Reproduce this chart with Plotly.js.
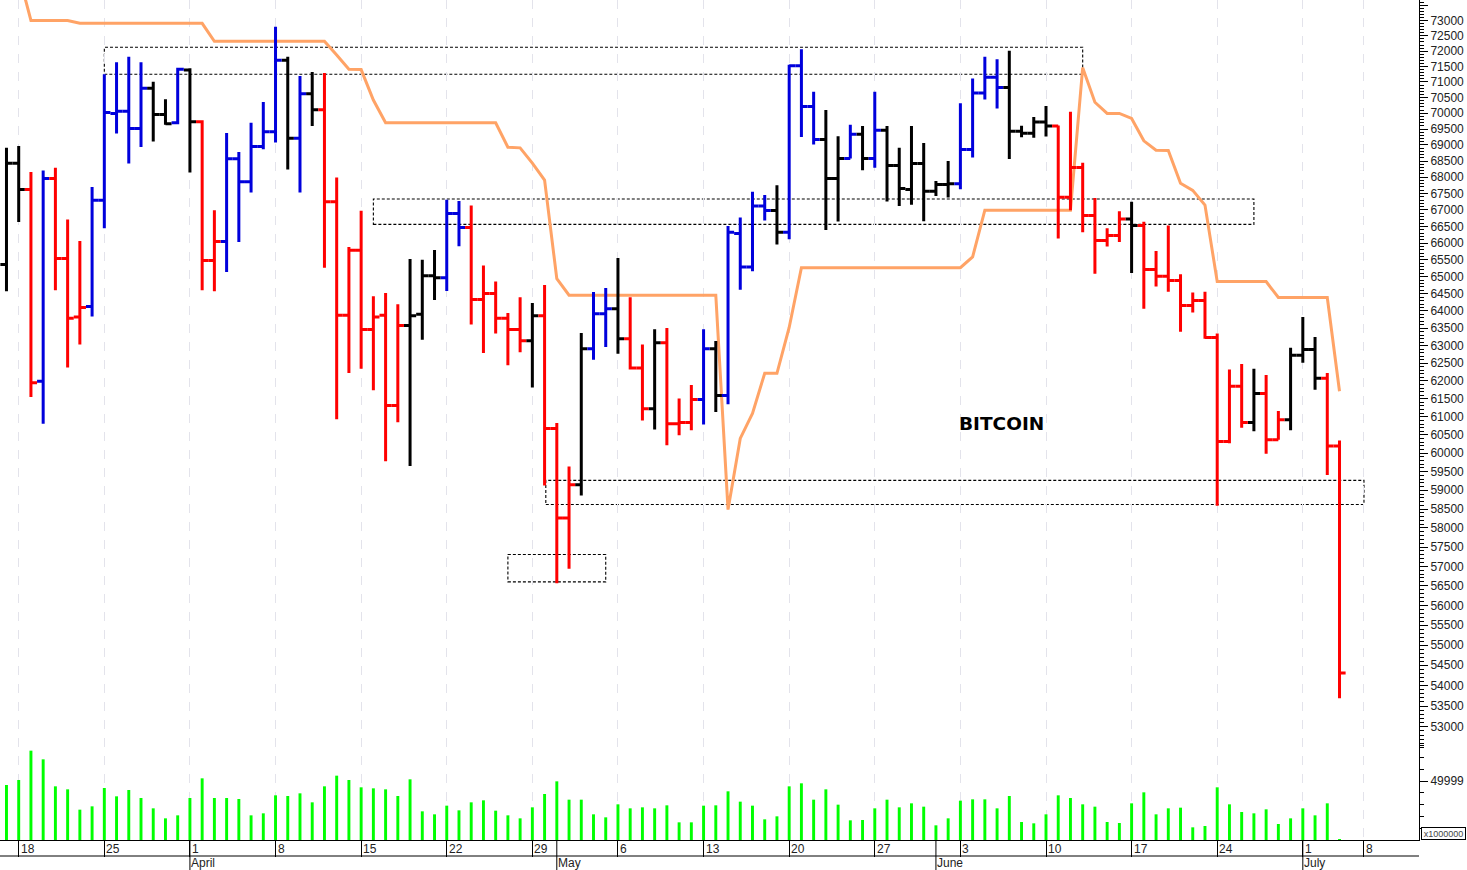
<!DOCTYPE html>
<html>
<head>
<meta charset="utf-8">
<title>BITCOIN</title>
<script src="https://cdn.plot.ly/plotly-3.0.1.min.js"></script>
<style>
  html, body { margin: 0; padding: 0; background: #fff; overflow: hidden; }
  #chart { width: 1467px; height: 870px; }
</style>
</head>
<body>
<div id="chart"></div>
<script>
  "use strict";
  const FONT = "Liberation Sans, Arial, sans-serif";

  // Bars run from session -1 (17 March) to session 108 (4 July).
  const barOpen = [
    65360, 68434, 67620, 61990, 67960, 65540, 63820, 64130, 67290, 69995,
    70060, 69520, 70795, 69960, 69700, 71385, 69730, 65480, 66045, 68570,
    67860, 68955, 69415, 71700, 69215, 70620, 70115, 67245, 63870, 65785,
    63460, 63870, 61310, 63575, 63900, 65030, 64970, 66890, 66470, 64330,
    64505, 63785, 63460, 63140, 63860, 60675, 58265, 59145, 62910, 63920,
    64065, 63200, 62365, 61225, 63085, 60810, 60840, 61480, 62910, 61590,
    66285, 65285, 67120, 66980, 66325, 71525, 70215, 69175, 67960, 68580,
    69335, 68580, 69460, 68365, 67625, 68425, 67565, 67775, 67795, 68860,
    70645, 71150, 70825, 69435, 69365, 69720, 69595, 67385, 68300, 66830,
    66075, 66225, 66720, 66530, 65210, 65010, 64885, 64155, 64300, 63230,
    60320, 61850, 60840, 61645, 60365, 60920, 62725, 62890, 62075, 60195,
  ];
  const barHigh = [
    68910, 68970, 68160, 68210, 68290, 66710, 66060, 67700, 71250, 71640,
    71820, 71640, 71005, 70450, 71460, 71440, 69780, 66990, 69380, 68785,
    69700, 70355, 72800, 71820, 71195, 71325, 71290, 67990, 65880, 66970,
    64425, 64520, 64195, 65525, 65505, 65795, 67310, 67270, 67135, 65330,
    64855, 63940, 64400, 64230, 64755, 60825, 59640, 63365, 64550, 64665,
    65555, 64400, 63035, 63470, 63505, 61505, 61885, 63470, 63135, 66510,
    66770, 67550, 67450, 67755, 71560, 72060, 70685, 70100, 69275, 69635,
    69595, 70685, 69595, 68910, 69595, 69065, 67885, 68500, 70315, 71115,
    71820, 71735, 72015, 69605, 69885, 70230, 69615, 70045, 68445, 67365,
    66440, 66960, 67245, 66640, 65765, 66530, 65070, 64535, 64560, 63345,
    62320, 62475, 62345, 62165, 61160, 62940, 63825, 63245, 62225, 60350,
  ];
  const barLow = [
    64570, 66630, 61550, 60810, 64600, 62380, 63030, 63840, 66440, 69360,
    68425, 68940, 69110, 69635, 69655, 68145, 64600, 64570, 65140, 66030,
    67530, 68870, 69080, 68240, 67530, 69595, 65265, 60930, 62220, 62345,
    61740, 59780, 60845, 59655, 63170, 64315, 64580, 65905, 63605, 62790,
    63345, 62440, 62810, 61815, 59125, 56565, 56935, 58860, 62600, 62960,
    62770, 62320, 60900, 60650, 60215, 60490, 60625, 60785, 61130, 61345,
    64620, 65160, 66680, 65955, 66115, 69250, 69015, 66390, 66650, 68580,
    68215, 68290, 67255, 67115, 67155, 66655, 67420, 67380, 67630, 68610,
    70440, 70155, 68560, 69245, 69225, 69270, 66135, 66990, 66320, 65090,
    65895, 66030, 65110, 64065, 64710, 64560, 63400, 63950, 63200, 58590,
    60275, 60700, 60600, 59985, 60365, 60625, 62515, 61755, 59410, 53690,
  ];
  const barClose = [
    68434, 67620, 61950, 67960, 65540, 63790, 64100, 67290, 70025, 70060,
    69520, 70795, 69960, 69665, 71410, 69730, 65480, 66045, 68570, 67860,
    68955, 69415, 71700, 69215, 70620, 70115, 67245, 63870, 65785, 63460,
    63825, 61310, 63575, 63860, 65030, 64970, 66890, 66470, 64330, 64505,
    63785, 63460, 63140, 63860, 60675, 58265, 59145, 62910, 63920, 64065,
    63200, 62365, 61225, 63085, 60810, 60840, 61480, 62910, 61590, 66325,
    65285, 67120, 66980, 66325, 71525, 70215, 69175, 67960, 68580, 69335,
    68580, 69460, 68365, 67655, 68425, 67565, 67775, 67795, 68860, 70645,
    71150, 70825, 69435, 69365, 69720, 69595, 67385, 68300, 66830, 66075,
    66225, 66720, 66530, 65210, 65010, 64885, 64155, 64300, 63230, 60320,
    61850, 60840, 61645, 60365, 60920, 62725, 62890, 62075, 60195, 54310,
  ];
  const barTone = [
    "kk", "r", "b", "rrr", "bbbbb", "kk", "b", "k", "rr", "bbbbb", "k", "b", "k",
    "rrrrrrr", "kkk", "bb", "rrrrr", "k", "rrr", "k", "bb", "k", "rr", "k", "rrr",
    "b", "k", "bbbb", "k", "bbb", "kk", "b", "k", "b", "kkkkkk", "bbbb", "kkkk",
    "rrrrrr", "k", "rrrrrrrrr", "k", "rr", "kkk", "rr",
  ].join("").split("");

  const stopLine = [
    null, 74560, 73010, 73010, 73010, 73010,
    72915, 72915, 72915, 72915, 72915, 72915, 72915, 72915, 72915, 72915, 72915,
    72320, 72320, 72320, 72320, 72320, 72320, 72320, 72320, 72320, 72320,
    71875, 71410, 71400, 70420,
    69700, 69700, 69700, 69700, 69700, 69700, 69700, 69700, 69700, 69700,
    68930, 68910, 68434, 67910, 64940,
    64455, 64455, 64455, 64455, 64455, 64455, 64455, 64455, 64455, 64455, 64455, 64455, 64455,
    58485, 60405, 61095, 62215, 62215, 63520,
    65265, 65265, 65265, 65265, 65265, 65265, 65265, 65265, 65265, 65265, 65265, 65265, 65265, 65265,
    65585,
    66990, 66990, 66990, 66990, 66990, 66990, 66990, 66990,
    71460, 70350, 69995, 69995, 69835, 69130, 68835, 68825, 67815, 67595, 67145,
    64855, 64855, 64855, 64855, 64855,
    64390, 64390, 64390, 64390, 64390,
    61710,
  ];

  // Volume, in units of x1000000.
  const volume = [
    46600, 50850, 75710, 68365, 45480, 42940, 25710, 28530, 44070, 37010,
    42375, 35600, 26840, 18360, 20900, 35600, 52260, 35600, 35600, 34750,
    20900, 22600, 37860, 37290, 39550, 31920, 45480, 54520, 50850, 44640,
    43790, 42940, 37290, 51420, 24300, 21750, 29100, 25140, 31920, 33620,
    24860, 20900, 18360, 27690, 38990, 49720, 34180, 34180, 21750, 19210,
    30230, 26840, 27690, 26840, 29380, 14970, 14970, 29100, 29380, 41250,
    32490, 29100, 17520, 20060, 45480, 48030, 34180, 42940, 29950, 16670,
    16950, 26840, 34180, 27690, 31080, 28250, 12430, 18360, 33340, 34470,
    34470, 26840, 37290, 15260, 14130, 21750, 37860, 35600, 30230, 28250,
    15260, 14410, 31080, 40400, 21750, 26840, 27400, 10740, 11870, 44640,
    30230, 23730, 22600, 26000, 13560, 18360, 26840, 20900, 31080, 850,
  ];

  const weekTicks = [0, 7, 14, 21, 28, 35, 42, 49, 56, 63, 70, 77, 84, 91, 98, 105, 110];
  const weekLabels = ["18", "25", "1", "8", "15", "22", "29", "6", "13", "20", "27", "3", "10", "17", "24", "1", "8"];
  const monthTicks = [14, 44, 75, 105];
  const monthLabels = ["April", "May", "June", "July"];

  // Dashed boxes: first session, last session, low price, high price.
  const boxFrom = [7, 29, 43.1, 40];
  const boxTo = [87, 101, 110, 48];
  const boxLow = [71250, 66560, 58620, 56600];
  const boxHigh = [72125, 67330, 59265, 57305];

  const priceRange = [Math.log10(50348), Math.log10(73689)];
  const X_RANGE = [-1.53, 114.5];
  const PLOT_H = 840;
  const TONES = { k: "#000000", r: "#FF0000", b: "#0000DC" };

  const sessions = barOpen.map((_, i) => i - 1);

  // One ohlc trace per colour, since plotly only knows up/down otherwise.
  function toneTrace(tone) {
    const pick = (arr) => arr.filter((_, i) => barTone[i] === tone);
    const line = { color: TONES[tone], width: 3 };
    return {
      type: "ohlc", yaxis: "y3", tickwidth: 0.5,
      x: pick(sessions), open: pick(barOpen), high: pick(barHigh), low: pick(barLow), close: pick(barClose),
      increasing: { line }, decreasing: { line },
    };
  }

  const traces = [
    { type: "scatter", mode: "lines", x: sessions, y: stopLine, yaxis: "y", connectgaps: false,
      line: { color: "#FFA366", width: 3 } },
    { type: "bar", x: sessions, y: volume, yaxis: "y2", width: 0.24,
      marker: { color: "#00FF00", line: { width: 0 } } },
    toneTrace("k"), toneTrace("b"), toneTrace("r"),
  ];

  // Price scale: labels each 500, small ticks each 100.
  const priceTicks = [], priceText = [], priceMinor = [];
  for (let p = 52500; p <= 73700; p += 100) {
    if (p % 500 === 0 && p >= 53000) {
      priceTicks.push(p);
      priceText.push(p === 73500 ? "" : String(p));
    } else {
      priceMinor.push(p);
    }
  }

  const monthShapes = monthTicks.map((m) => ({
    type: "line", xref: "x", yref: "paper", x0: m, x1: m, y0: 0, y1: -30 / PLOT_H,
    line: { color: "#000", width: 1 },
  }));
  const boxShapes = boxFrom.map((_, i) => ({
    type: "rect", xref: "x", yref: "y", layer: "below",
    x0: boxFrom[i], x1: boxTo[i], y0: boxLow[i], y1: boxHigh[i],
    line: { color: "#000", width: 1.1, dash: "3px,2px" },
  }));
  const rowLine = {
    type: "line", xref: "paper", yref: "paper", x0: 0, x1: 1, y0: -16 / PLOT_H, y1: -16 / PLOT_H,
    line: { color: "#000", width: 1 },
  };

  const labelFont = { family: FONT, size: 12, color: "#222" };
  const weekNotes = weekTicks.map((t, i) => ({
    xref: "x", yref: "paper", x: t, y: -8.5 / PLOT_H, text: weekLabels[i], showarrow: false,
    xanchor: "left", yanchor: "middle", xshift: 0, font: labelFont,
  }));
  const monthNotes = monthTicks.map((t, i) => ({
    xref: "x", yref: "paper", x: t, y: -23.5 / PLOT_H, text: monthLabels[i], showarrow: false,
    xanchor: "left", yanchor: "middle", xshift: 0, borderpad: 0, font: labelFont,
  }));

  const layout = {
    width: 1467, height: 870,
    margin: { l: 0, r: 48, t: 0, b: 30, pad: 0 },
    paper_bgcolor: "#fff", plot_bgcolor: "#fff",
    showlegend: false, hovermode: false,
    xaxis: {
      type: "linear", range: X_RANGE, rangeslider: { visible: false }, zeroline: false,
      tickmode: "array", tickvals: weekTicks, showticklabels: false,
      ticks: "outside", ticklen: 16, tickcolor: "#000", tickwidth: 1,
      showline: true, linecolor: "#000", linewidth: 1,
      showgrid: true, gridcolor: "#E3E3EB", gridwidth: 1, griddash: "dash",
    },
    yaxis: {
      type: "log", side: "right", range: priceRange, showgrid: false, zeroline: false,
      showline: true, linecolor: "#000", linewidth: 1,
      tickmode: "array", tickvals: priceTicks, ticktext: priceText,
      ticks: "outside", ticklen: 8, tickcolor: "#000", tickwidth: 1, tickfont: labelFont,
      minor: { tickmode: "array", tickvals: priceMinor, ticks: "outside", ticklen: 4, tickcolor: "#000", tickwidth: 1, showgrid: false },
    },
    yaxis2: {
      overlaying: "y", side: "right", range: [0, 711864], showgrid: false, zeroline: false, showline: false,
      tickmode: "array", tickvals: [49999], ticktext: ["49999"],
      ticks: "outside", ticklen: 8, tickcolor: "#000", tickwidth: 1, tickfont: labelFont,
      minor: { tickmode: "array", tickvals: [10000, 20000, 30000, 40000, 60000, 70000, 80000], ticks: "outside", ticklen: 4, tickcolor: "#000", tickwidth: 1, showgrid: false },
    },
    yaxis3: { type: "log", overlaying: "y", side: "right", range: priceRange, visible: false },
    shapes: [rowLine, ...monthShapes, ...boxShapes],
    annotations: [
      ...weekNotes, ...monthNotes,
      { xref: "x", yref: "y", x: 80.35, y: Math.log10(60820), yshift: 0, text: "<b>BITCOIN</b>", showarrow: false,
        font: { family: "DejaVu Sans, Verdana, sans-serif", size: 18.5, color: "#000" } },
      { xref: "paper", yref: "paper", x: 1421 / 1419, y: 0, xanchor: "left", yanchor: "bottom", text: "x1000000", showarrow: false,
        width: 43, height: 11, bgcolor: "#fff", bordercolor: "#000", borderwidth: 1, borderpad: 0,
        font: { family: FONT, size: 9, color: "#444" } },
    ],
  };

  Plotly.newPlot("chart", traces, layout, { staticPlot: true, displayModeBar: false });
</script>
</body>
</html>
